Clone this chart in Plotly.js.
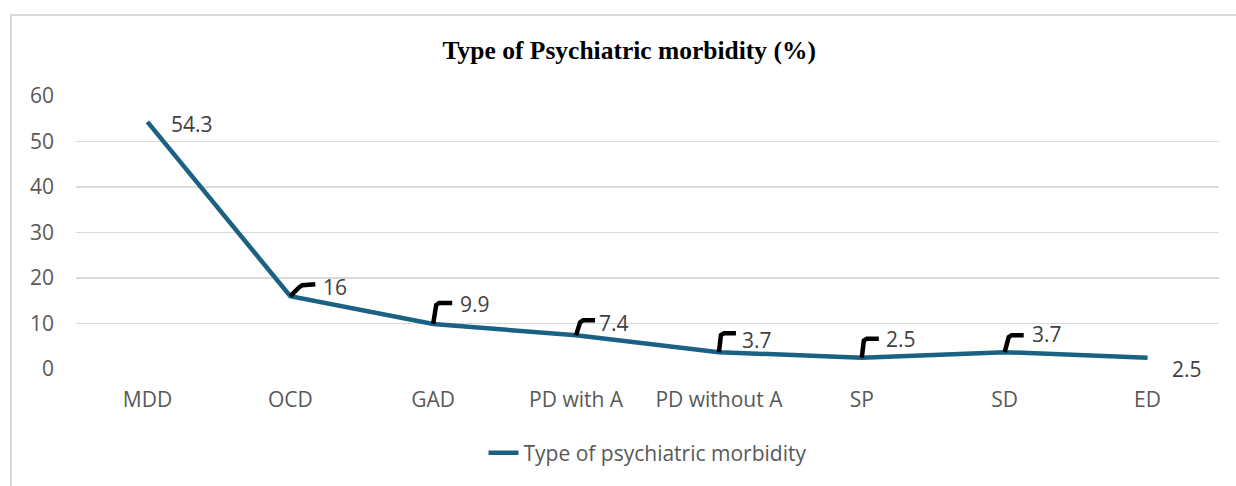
<!DOCTYPE html>
<html>
<head>
<meta charset="utf-8">
<script src="https://cdn.plot.ly/plotly-3.0.1.min.js"></script>
<style>
  html, body { margin: 0; padding: 0; background: #fff; }
  #wrap { position: relative; width: 1236px; height: 486px; }
  #chart { width: 1236px; height: 486px; }
  #frame { position: absolute; left: 10px; top: 14px; right: -5px; bottom: -5px;
           border-left: 2px solid #d9d9d9; border-top: 2px solid #d9d9d9; pointer-events: none; }
</style>
</head>
<body>
<div id="wrap"><div id="chart"></div><div id="frame"></div></div>
<script>
// ---- data ----
const categories = ["MDD", "OCD", "GAD", "PD with A", "PD without A", "SP", "SD", "ED"];
const values = [54.3, 16, 9.9, 7.4, 3.7, 2.5, 3.7, 2.5];
const seriesName = "Type of psychiatric morbidity";
const chartTitle = "Type of Psychiatric morbidity (%)";
const yTicks = [0, 10, 20, 30, 40, 50, 60];

// ---- label placement (pixel offsets, styling only) ----
const labelShift = [[22, -2], [31, 9], [25, 20], [21, 12], [21, 12], [22, 19], [25, 18], [22, -11]];
const leaderPaths = [null,
  "M0,0 L9,9 L12,11 L25,12",
  "M0,0 L3,19 L6,21 L19,21",
  "M0,0 L4,13 L7,15 L19,15",
  "M0,0 L2,17 L5,19 L17,19",
  "M0,0 L2,17 L5,19 L17,19",
  "M0,0 L4,15 L7,17 L19,17",
  null];

const xs = categories.map((_, i) => i);
const FONT = "'Open Sans', 'Liberation Sans', sans-serif";
const FS = 21;

const annotations = values.map((v, i) => ({
  x: xs[i], y: v, xref: "x", yref: "y",
  text: String(v), showarrow: false,
  xanchor: "left", yanchor: "middle",
  xshift: labelShift[i][0], yshift: labelShift[i][1],
  font: { family: FONT, size: FS, color: "#404040" }
}));

const shapes = [];
values.forEach((v, i) => {
  if (!leaderPaths[i]) return;
  shapes.push({
    type: "path", xref: "x", yref: "y",
    xsizemode: "pixel", ysizemode: "pixel",
    xanchor: xs[i], yanchor: v,
    path: leaderPaths[i],
    line: { color: "#000000", width: 4.5 },
    layer: "above"
  });
});

const trace = {
  x: xs, y: values, type: "scatter", mode: "lines",
  name: seriesName,
  line: { color: "#1b6183", width: 4.5 },
  hoverinfo: "skip"
};

const layout = {
  width: 1236, height: 486,
  margin: { l: 75.5, r: 16.5, t: 96, b: 114 },
  paper_bgcolor: "rgba(0,0,0,0)",
  plot_bgcolor: "#ffffff",
  title: {
    text: "<b>" + chartTitle + "</b>",
    font: { family: "'Liberation Serif', 'DejaVu Serif', serif", size: 25.5, color: "#000000" },
    x: 0.484, xanchor: "center", y: 0.897, yanchor: "middle", xref: "paper"
  },
  showlegend: true,
  legend: {
    orientation: "h", x: 0.5, xanchor: "center", xref: "paper",
    y: -0.308, yanchor: "middle",
    font: { family: FONT, size: FS, color: "#595959" }
  },
  xaxis: {
    range: [-0.5, categories.length - 0.5],
    tickmode: "array", tickvals: xs, ticktext: categories,
    showgrid: false, zeroline: false, showline: false, ticks: "",
    ticklabelstandoff: 16,
    tickfont: { family: FONT, size: FS, color: "#595959" },
    fixedrange: true
  },
  yaxis: {
    range: [0, 60],
    tickmode: "array", tickvals: yTicks,
    showgrid: true, gridcolor: "#d9d9d9", gridwidth: 1.5,
    zeroline: false, showline: false, ticks: "",
    ticklabelstandoff: 21,
    tickfont: { family: FONT, size: FS, color: "#595959" },
    fixedrange: true
  },
  annotations: annotations,
  shapes: shapes
};

Plotly.newPlot("chart", [trace], layout, { staticPlot: true, displayModeBar: false });
</script>
</body>
</html>
